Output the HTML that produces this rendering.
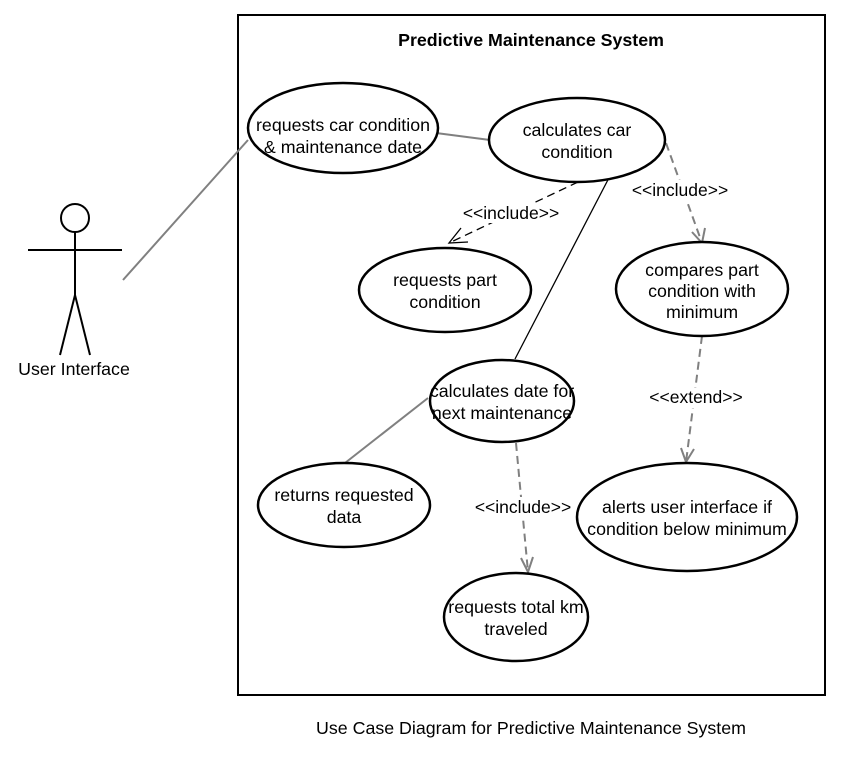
<!DOCTYPE html>
<html><head><style>body{margin:0;background:#fff}svg{display:block}text{font-family:"Liberation Sans",Arial,sans-serif;fill:#000}</style></head>
<body>
<svg width="856" height="768" viewBox="0 0 856 768" xmlns="http://www.w3.org/2000/svg">
<rect x="238" y="15" width="587" height="680" fill="none" stroke="#000" stroke-width="2"/>
<text x="531" y="46" font-size="17.8" font-weight="bold" text-anchor="middle">Predictive Maintenance System</text>
<g stroke="#000" stroke-width="2" fill="none">
<circle cx="75" cy="218" r="14"/>
<line x1="75" y1="232" x2="75" y2="295"/>
<line x1="28" y1="250" x2="122" y2="250"/>
<line x1="75" y1="295" x2="60" y2="355"/>
<line x1="75" y1="295" x2="90" y2="355"/>
</g>
<text x="74" y="375" font-size="17.8" text-anchor="middle">User Interface</text>
<g stroke="#808080" stroke-width="2">
<line x1="123" y1="280" x2="248" y2="140"/>
<line x1="436" y1="133" x2="490" y2="140"/>
<line x1="428" y1="398" x2="345" y2="463"/>
</g>
<line x1="612" y1="172" x2="515" y2="359" stroke="#000" stroke-width="1.3"/>
<g fill="none" stroke-dasharray="8,5">
<line x1="578" y1="182" x2="449" y2="243" stroke="#000" stroke-width="1.3"/>
<line x1="666" y1="143" x2="702" y2="243" stroke="#808080" stroke-width="2"/>
<line x1="702" y1="336" x2="686" y2="462" stroke="#808080" stroke-width="2"/>
<line x1="516" y1="443" x2="528" y2="572" stroke="#808080" stroke-width="2"/>
</g>
<g fill="none">
<polyline points="461,228 449,243 468,242" stroke="#000" stroke-width="1.3"/>
<polyline points="692,232 702,243 705,228" stroke="#808080" stroke-width="2"/>
<polyline points="681,448 686,462 694,449" stroke="#808080" stroke-width="2"/>
<polyline points="521,558 528,572 533,557" stroke="#808080" stroke-width="2"/>
</g>
<g font-size="17.5" text-anchor="middle">
<rect x="462" y="203" width="98" height="20" fill="#fff"/>
<text x="511" y="219">&lt;&lt;include&gt;&gt;</text>
<rect x="631" y="180" width="98" height="20" fill="#fff"/>
<text x="680" y="196">&lt;&lt;include&gt;&gt;</text>
<rect x="648" y="388" width="98" height="20" fill="#fff"/>
<text x="696" y="403">&lt;&lt;extend&gt;&gt;</text>
<rect x="474" y="497" width="98" height="20" fill="#fff"/>
<text x="523" y="513">&lt;&lt;include&gt;&gt;</text>
</g>
<g fill="#fff" stroke="#000" stroke-width="2.5">
<ellipse cx="343" cy="128" rx="95" ry="45"/>
<ellipse cx="577" cy="140" rx="88" ry="42"/>
<ellipse cx="445" cy="290" rx="86" ry="42"/>
<ellipse cx="702" cy="289" rx="86" ry="47"/>
<ellipse cx="502" cy="401" rx="72" ry="41"/>
<ellipse cx="344" cy="505" rx="86" ry="42"/>
<ellipse cx="687" cy="517" rx="110" ry="54"/>
<ellipse cx="516" cy="617" rx="72" ry="44"/>
</g>
<g font-size="17.8" text-anchor="middle">
<text x="343" y="131">requests car condition</text><text x="343" y="153">&amp; maintenance date</text>
<text x="577" y="136">calculates car</text><text x="577" y="158">condition</text>
<text x="445" y="286">requests part</text><text x="445" y="308">condition</text>
<text x="702" y="276">compares part</text><text x="702" y="297">condition with</text><text x="702" y="318">minimum</text>
<text x="502" y="397">calculates date for</text><text x="502" y="419">next maintenance</text>
<text x="344" y="501">returns requested</text><text x="344" y="523">data</text>
<text x="687" y="513">alerts user interface if</text><text x="687" y="535">condition below minimum</text>
<text x="516" y="613">requests total km</text><text x="516" y="635">traveled</text>
</g>
<text x="531" y="734" font-size="17.8" text-anchor="middle">Use Case Diagram for Predictive Maintenance System</text>
</svg>
</body></html>
